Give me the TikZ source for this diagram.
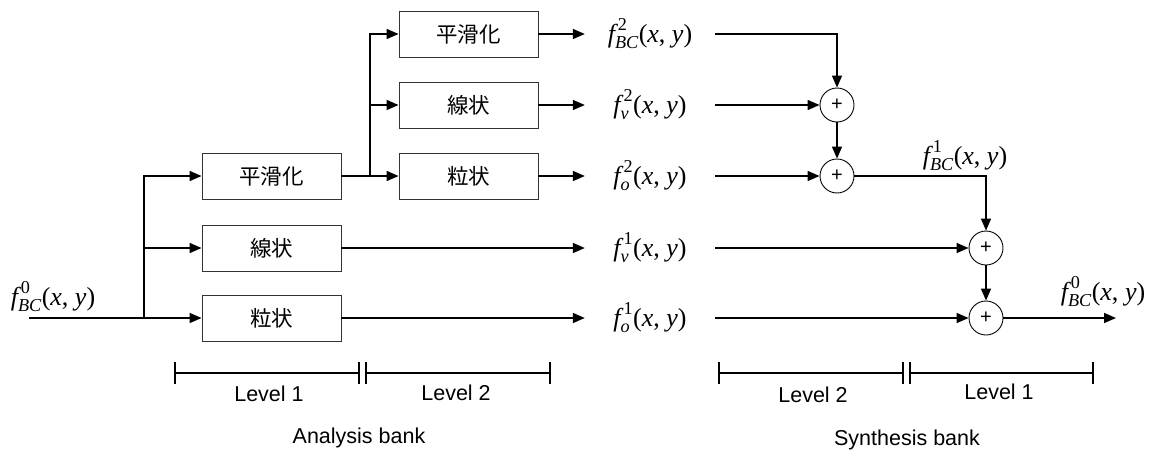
\documentclass[tikz,border=0pt]{standalone}
\usepackage{fontspec}
\usepackage{amsmath}
\setmainfont{Liberation Sans}
\newfontfamily\cjk{Noto Sans CJK JP}
\newfontfamily\tms{Liberation Serif}
\usetikzlibrary{arrows.meta}
\newcommand{\flab}[2]{$\text{\tms\itshape f}^{\,\text{\tms #1}}_{\text{\tms\itshape #2}}\text{\tms(\textit{x}, \textit{y})}$}
\tikzset{
  fbox/.style={draw=black!80, line width=0.9pt, minimum width=139pt, minimum height=46pt, inner sep=0pt, font=\cjk\fontsize{21.5}{25}\selectfont},
  sum/.style={circle, draw, line width=0.9pt, minimum size=34pt, inner sep=0pt, font=\fontsize{20}{22}\selectfont},
  flbl/.style={minimum width=130pt, inner sep=0pt, font=\fontsize{26}{30}\selectfont},
  tlbl/.style={inner sep=0pt, font=\fontsize{26}{30}\selectfont},
  conn/.style={line width=1.6pt, -{Triangle[length=12pt,width=10pt]}},
  wire/.style={line width=1.6pt},
  lvl/.style={inner sep=0pt, font=\fontsize{21.5}{25}\selectfont},
  bar/.style={line width=1.6pt}
}
\begin{document}
\begin{tikzpicture}[x=1pt,y=-1pt]
\useasboundingbox (0,0) rectangle (1153,450);
% analysis level 1
\node[fbox] (a1) at (271.5,176) {平滑化};
\node[fbox] (a2) at (271.5,248) {線状};
\node[fbox] (a3) at (271.5,318) {粒状};
% analysis level 2
\node[fbox] (b1) at (468.5,34) {平滑化};
\node[fbox] (b2) at (468.5,105) {線状};
\node[fbox] (b3) at (468.5,176) {粒状};
% labels
\node[flbl] (l1) at (650,34) {\flab{2}{BC}};
\node[flbl] (lv2) at (650,105) {\flab{2}{v}};
\node[flbl] (lo2) at (650,176) {\flab{2}{o}};
\node[flbl] (lv1) at (650,248) {\flab{1}{v}};
\node[flbl] (lo1) at (650,318) {\flab{1}{o}};
\node[tlbl] (lin) at (53,297) {\flab{0}{BC}};
\node[tlbl] (lmid) at (965,156) {\flab{1}{BC}};
\node[tlbl] (lout) at (1103,292) {\flab{0}{BC}};
% sums
\node[sum] (s1) at (837,105) {+};
\node[sum] (s2) at (837,176) {+};
\node[sum] (s3) at (986,248) {+};
\node[sum] (s4) at (986,318) {+};
% coordinates
\coordinate (in) at (29,318);
\coordinate (j0) at (144,318);
\coordinate (j1) at (370,176);
\coordinate (out) at (1116,318);
% analysis connectors
\draw[wire] (in) -- (j0);
\draw[conn] (j0) -- (a3);
\draw[conn] (j0) |- (a2.west);
\draw[conn] (j0) |- (a1.west);
\draw[conn] (a1) -- (b3);
\draw[conn] (j1) |- (b2.west);
\draw[conn] (j1) |- (b1.west);
\draw[conn] (b1) -- (l1);
\draw[conn] (b2) -- (lv2);
\draw[conn] (b3) -- (lo2);
\draw[conn] (a2) -- (lv1);
\draw[conn] (a3) -- (lo1);
% synthesis connectors
\draw[conn] (l1.east) -| (s1.north);
\draw[conn] (lv2) -- (s1);
\draw[conn] (s1) -- (s2);
\draw[conn] (lo2) -- (s2);
\draw[conn] (s2.east) -| (s3.north);
\draw[conn] (lv1) -- (s3);
\draw[conn] (s3) -- (s4);
\draw[conn] (lo1) -- (s4);
\draw[conn] (s4) -- (out);
% level bars analysis
\draw[bar] (175,373) -- (359,373);
\draw[bar] (366,373) -- (550,373);
\draw[bar] (175,362) -- (175,384);
\draw[bar] (359,362) -- (359,384);
\draw[bar] (366,362) -- (366,384);
\draw[bar] (550,362) -- (550,384);
\node[lvl] (t1) at (269,394) {Level 1};
\node[lvl] (t2) at (456,393) {Level 2};
\node[lvl] (t3) at (359,438) {Analysis bank};
% level bars synthesis
\draw[bar] (719,373) -- (903,373);
\draw[bar] (910,373) -- (1093,373);
\draw[bar] (719,362) -- (719,384);
\draw[bar] (903,362) -- (903,384);
\draw[bar] (910,362) -- (910,384);
\draw[bar] (1093,362) -- (1093,384);
\node[lvl] (t4) at (813,395) {Level 2};
\node[lvl] (t5) at (999,392) {Level 1};
\node[lvl] (t6) at (907,440) {Synthesis bank};
\end{tikzpicture}
\end{document}
